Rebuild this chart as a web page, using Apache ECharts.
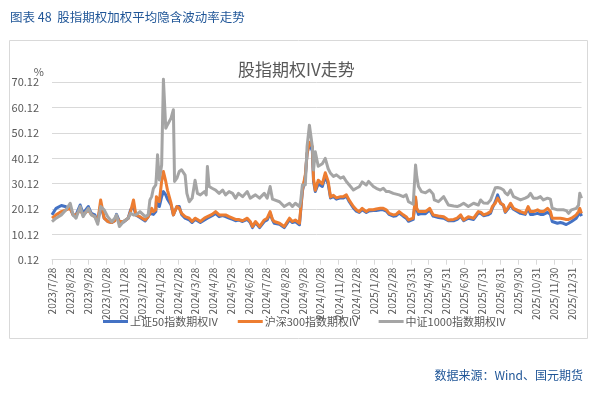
<!DOCTYPE html>
<html>
<head>
<meta charset="utf-8">
<script src="https://cdn.jsdelivr.net/npm/echarts@6/dist/echarts.min.js"></script>
<style>
html,body{margin:0;padding:0;background:#fff;}
#c{width:612px;height:395px;}
</style>
</head>
<body>
<div id="c"></div>
<script>
// ---- data ----
var seriesNames = ['上证50指数期权IV', '沪深300指数期权IV', '中证1000指数期权IV'];
var tickLabels = ['2023/7/28','2023/8/28','2023/9/28','2023/10/28','2023/11/28','2023/12/28',
  '2024/1/28','2024/2/28','2024/3/28','2024/4/28','2024/5/28','2024/6/28','2024/7/28','2024/8/28',
  '2024/9/28','2024/10/28','2024/11/28','2024/12/28','2025/1/28','2025/2/28','2025/3/31','2025/4/30',
  '2025/5/31','2025/6/30','2025/7/31','2025/8/31','2025/9/30','2025/10/31','2025/11/30','2025/12/31'];
var yTicks = [0.12, 10.12, 20.12, 30.12, 40.12, 50.12, 60.12, 70.12];
var startDate = '2023/7/28';
var endDate = '2026/1/16';

var dates = ['2023/7/28','2023/8/4','2023/8/13','2023/8/21','2023/8/28','2023/9/2','2023/9/7','2023/9/14','2023/9/19','2023/9/28',
'2023/10/3','2023/10/9','2023/10/14','2023/10/19','2023/10/25','2023/10/31','2023/11/7','2023/11/12','2023/11/15','2023/11/20',
'2023/11/27','2023/12/5','2023/12/9','2023/12/14','2023/12/18','2023/12/25','2024/1/3','2024/1/8','2024/1/11','2024/1/14',
'2024/1/17','2024/1/21','2024/1/22','2024/1/24','2024/1/27','2024/1/31','2024/2/3','2024/2/7','2024/2/10','2024/2/16',
'2024/2/20','2024/2/22','2024/2/26','2024/3/1','2024/3/5','2024/3/11','2024/3/14','2024/3/18','2024/3/23','2024/3/28',
'2024/4/1','2024/4/6','2024/4/13','2024/4/16','2024/4/18','2024/4/21','2024/4/26','2024/5/2','2024/5/8','2024/5/14',
'2024/5/19','2024/5/25','2024/5/31','2024/6/5','2024/6/10','2024/6/17','2024/6/25','2024/6/30','2024/7/4','2024/7/9',
'2024/7/16','2024/7/24','2024/7/29','2024/8/3','2024/8/7','2024/8/10','2024/8/19','2024/8/27','2024/9/5','2024/9/10',
'2024/9/15','2024/9/22','2024/9/24','2024/9/27','2024/10/2','2024/10/5','2024/10/9','2024/10/14','2024/10/16','2024/10/19',
'2024/10/24','2024/10/31','2024/11/5','2024/11/10','2024/11/14','2024/11/19','2024/11/24','2024/12/1','2024/12/6','2024/12/11',
'2024/12/16','2024/12/23','2024/12/28','2025/1/2','2025/1/7','2025/1/14','2025/1/18','2025/1/26','2025/1/31','2025/2/7',
'2025/2/12','2025/2/17','2025/2/22','2025/3/1','2025/3/6','2025/3/11','2025/3/18','2025/3/23','2025/3/27','2025/3/30',
'2025/4/4','2025/4/8','2025/4/10','2025/4/13','2025/4/18','2025/4/25','2025/5/2','2025/5/5','2025/5/8','2025/5/10',
'2025/5/17','2025/5/26','2025/6/3','2025/6/6','2025/6/12','2025/6/18','2025/6/24','2025/6/29','2025/7/7','2025/7/16',
'2025/7/24','2025/7/28','2025/8/2','2025/8/9','2025/8/14','2025/8/17','2025/8/22','2025/8/26','2025/8/31','2025/9/5',
'2025/9/8','2025/9/12','2025/9/17','2025/9/22','2025/9/25','2025/10/4','2025/10/12','2025/10/17','2025/10/21','2025/10/26',
'2025/11/2','2025/11/7','2025/11/12','2025/11/19','2025/11/24','2025/11/27','2025/12/6','2025/12/11','2025/12/16','2025/12/21',
'2025/12/25','2025/12/30','2026/1/2','2026/1/7','2026/1/11','2026/1/13','2026/1/16'];

var sz50 = [17.8,20.4,21.5,21.0,20.4,17.8,17.8,21.7,18.4,21.1,
18.4,17.8,15.2,21.7,16.5,15.2,14.8,15.5,18.0,15.2,
15.0,16.5,19.8,21.1,17.8,16.8,15.4,17.1,18.4,19.1,
18.0,19.1,23.1,22.0,21.1,25.0,27.0,25.7,24.0,21.7,
17.8,18.5,21.1,21.1,18.0,16.5,16.0,15.8,14.8,16.0,
15.5,14.8,15.8,16.0,16.5,17.1,17.5,18.4,17.1,17.5,
17.1,16.5,16.0,15.5,15.8,15.2,16.0,14.8,12.8,14.8,
12.8,15.2,15.8,18.4,15.8,14.5,14.1,12.8,15.8,14.8,
15.2,13.9,14.5,27.0,32.9,42.0,46.0,43.0,31.0,27.0,
30.0,29.0,33.0,30.0,24.5,25.0,24.0,24.5,24.5,25.2,
23.0,20.5,19.3,18.8,19.8,18.8,19.3,19.5,19.5,19.8,
19.8,19.3,18.0,17.3,17.5,18.5,17.3,16.5,15.3,15.5,
16.0,24.0,20.0,18.0,18.3,18.3,19.8,19.3,17.3,17.0,
16.8,16.5,15.5,15.3,15.5,16.0,17.3,15.5,16.5,16.0,
18.5,18.4,17.5,17.8,18.5,20.5,23.0,25.7,22.4,21.5,
18.8,20.0,21.7,20.0,19.5,18.4,18.0,20.4,18.0,18.0,
18.4,18.0,18.0,18.8,18.0,15.2,14.5,14.8,14.5,14.0,
14.5,15.2,15.5,16.5,18.0,19.0,17.3];

var hs300 = [16.5,17.8,19.1,19.8,20.4,17.8,17.8,19.8,17.8,19.8,
18.0,17.1,15.2,23.7,16.5,15.2,14.8,15.5,17.1,15.2,
15.2,16.5,19.1,23.7,17.8,17.1,15.8,17.1,18.4,20.4,
19.1,19.8,25.0,24.0,23.1,31.0,34.9,31.0,27.5,22.4,
17.8,19.0,21.1,20.4,18.4,17.1,16.8,16.5,15.2,16.5,
16.0,15.2,16.5,16.5,17.1,17.8,18.0,19.1,17.8,17.8,
17.8,17.1,16.5,16.0,16.0,15.5,16.5,15.2,13.2,15.2,
13.2,15.8,16.5,19.1,16.0,15.2,14.5,13.2,16.5,15.2,
15.8,14.5,15.0,27.6,33.6,42.0,46.5,44.7,32.0,27.5,
31.5,30.0,34.4,31.0,24.9,25.5,24.5,25.0,25.0,25.7,
23.5,21.1,19.8,19.1,20.4,19.1,19.8,19.8,20.1,20.4,
20.4,19.8,18.4,17.8,18.0,19.1,17.8,17.1,15.8,16.0,
16.5,24.9,20.4,19.1,19.1,19.1,20.4,19.8,17.8,17.6,
17.4,17.1,15.8,15.8,16.0,16.5,17.8,15.8,17.1,16.5,
19.1,18.9,17.8,18.4,19.1,21.1,22.4,24.4,22.4,21.7,
19.1,20.4,22.4,20.4,20.4,19.1,18.4,21.1,19.1,19.1,
19.8,19.1,19.1,20.4,19.1,16.5,16.5,16.5,16.3,16.0,
16.0,16.5,17.1,17.8,19.1,20.4,18.4];

var zz1000 = [15.1,16.5,17.8,19.8,22.4,17.8,16.5,21.1,17.1,20.4,
17.8,17.1,14.1,21.1,19.8,17.1,15.1,16.5,17.8,13.2,
15.2,16.5,18.4,17.8,17.8,19.1,17.1,17.8,23.7,25.0,
28.3,29.6,33.0,41.5,31.6,37.5,71.3,52.0,53.4,56.0,
59.3,31.0,32.3,34.9,35.6,33.5,26.3,23.0,24.4,31.5,
26.3,25.7,27.0,25.7,36.9,29.0,28.3,27.6,26.3,27.6,
25.7,27.0,26.3,24.4,26.3,25.0,27.0,24.4,25.0,25.7,
24.4,26.3,24.4,29.0,24.0,24.4,23.0,21.1,22.4,21.1,
22.4,21.1,23.0,29.6,29.6,44.8,53.2,44.7,35.5,42.7,
37.0,38.0,40.1,36.0,34.2,33.0,33.6,32.3,32.8,31.0,
29.6,27.6,28.3,28.9,30.8,29.6,31.0,29.0,28.3,27.6,
28.3,27.0,27.0,26.3,26.0,25.7,25.0,25.7,23.0,22.3,
22.0,37.5,33.0,29.0,27.0,26.5,27.6,28.3,26.0,23.7,
23.0,25.0,21.7,21.7,21.3,21.1,21.7,22.4,21.1,22.4,
21.7,23.7,22.5,22.4,23.7,23.0,28.5,28.6,28.3,27.6,
26.5,25.7,27.6,25.0,24.4,23.7,24.4,25.0,26.3,24.4,
24.4,25.0,23.7,24.4,24.0,20.4,19.8,19.8,19.8,19.5,
18.4,19.8,19.8,20.4,21.7,26.3,24.4];

// ---- build daily category axis ----
function parseD(s){var p=s.split('/');return Date.UTC(+p[0],+p[1]-1,+p[2]);}
function fmtD(t){var d=new Date(t);return d.getUTCFullYear()+'/'+(d.getUTCMonth()+1)+'/'+d.getUTCDate();}
var days = [];
for (var t = parseD(startDate); t <= parseD(endDate); t += 86400000) days.push(fmtD(t));
var dayIndex = {};
days.forEach(function(d,i){dayIndex[d]=i;});
function toDaily(vals){
  var arr = days.map(function(){return null;});
  dates.forEach(function(d,i){ arr[dayIndex[d]] = vals[i]; });
  return arr;
}
var tickSet = {};
tickLabels.forEach(function(d){tickSet[d]=true;});
function isTick(idx, val){ return !!tickSet[val]; }

var FONT = '"Noto Sans CJK SC", "Noto Sans", sans-serif';
var colors = ['#4472C4', '#ED7D31', '#A5A5A5'];
var seriesVals = [sz50, hs300, zz1000];

var chart = echarts.init(document.getElementById('c'), null, {renderer:'canvas'});
chart.setOption({
  animation: false,
  textStyle: {fontFamily: FONT},
  color: colors,
  title: [
    {text: '图表 48  股指期权加权平均隐含波动率走势', left: 10, top: 11, padding: 0,
     textStyle: {fontSize: 12.5, fontWeight: 'normal', color: '#1F5597', fontFamily: FONT}},
    {text: '股指期权IV走势', left: 238, top: 61, padding: 0,
     textStyle: {fontSize: 17, fontWeight: 'normal', color: '#595959', fontFamily: FONT}},
    {text: '数据来源：Wind、国元期货', right: 29, top: 369, padding: 0,
     textStyle: {fontSize: 12, fontWeight: 'normal', color: '#1F5597', fontFamily: FONT}}
  ],
  graphic: [{
    type: 'rect', shape: {x: 9.5, y: 40.5, width: 578, height: 298},
    style: {fill: 'none', stroke: '#D9D9D9', lineWidth: 1}, silent: true, z: -1
  }],
  legend: {
    data: seriesNames, left: 103, top: 316, padding: 0, itemGap: 20,
    icon: 'rect', itemWidth: 25, itemHeight: 3,
    textStyle: {fontSize: 11, color: '#595959', fontFamily: FONT, padding: [0,0,0,-3]}
  },
  grid: {left: 52, right: 30.5, top: 82.3, bottom: 135.3, containLabel: false},
  xAxis: {
    type: 'category', data: days, boundaryGap: false,
    axisLine: {show: true, lineStyle: {color: '#D9D9D9', width: 1}},
    axisTick: {show: true, interval: isTick, length: 5, lineStyle: {color: '#D9D9D9'}},
    axisLabel: {interval: isTick, rotate: 90, fontSize: 10, color: '#595959', margin: 8, fontFamily: FONT},
    splitLine: {show: false}
  },
  yAxis: {
    type: 'value', min: yTicks[0], max: yTicks[yTicks.length-1], interval: 10,
    name: '%', nameLocation: 'end', nameGap: 5,
    nameTextStyle: {fontSize: 11, color: '#595959', align: 'right', padding: [0, 8, 0, 0], fontFamily: FONT},
    axisLine: {show: false}, axisTick: {show: false},
    axisLabel: {fontSize: 11, color: '#595959', margin: 13, fontFamily: FONT,
      formatter: function(v){ return v.toFixed(2); }},
    splitLine: {lineStyle: {color: '#D9D9D9', width: 1}}
  },
  series: seriesNames.map(function(n, i){
    return {
      name: n, type: 'line', data: toDaily(seriesVals[i]), connectNulls: true,
      showSymbol: false, symbol: 'none', clip: false,
      lineStyle: {width: 3, color: colors[i], join: 'round'},
      itemStyle: {color: colors[i]}
    };
  })
});
</script>
</body>
</html>
